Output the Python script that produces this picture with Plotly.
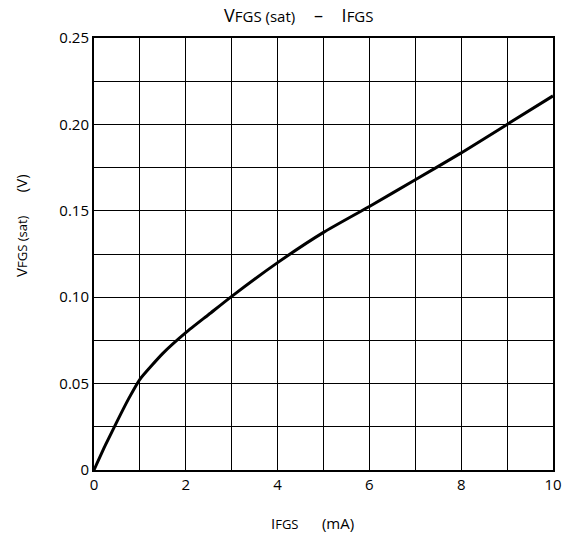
import plotly.graph_objects as go

i_fgs = [0, 0.25, 0.5, 0.75, 1, 1.5, 2, 2.5, 3, 4, 5, 6, 7, 8, 9, 10]
v_fgs_sat = [0, 0.0145, 0.028, 0.041, 0.0525, 0.0675, 0.0795, 0.090, 0.1005,
             0.120, 0.1375, 0.1525, 0.168, 0.1835, 0.2, 0.2165]

x_ticks = [0, 2, 4, 6, 8, 10]
x_ticktext = ["0", "2", "4", "6", "8", "10"]
y_ticks = [0, 0.05, 0.10, 0.15, 0.20, 0.25]
y_ticktext = ["0", "0.05", "0.10", "0.15", "0.20", "0.25"]

FONT = "Open Sans, DejaVu Sans, sans-serif"

fig = go.Figure()
fig.add_trace(go.Scatter(x=i_fgs, y=v_fgs_sat, mode="lines",
                         line=dict(color="black", width=3, shape="spline", smoothing=0.5),
                         showlegend=False, hoverinfo="skip"))

fig.update_layout(
    width=564, height=536,
    margin=dict(l=94, r=11, t=38, b=66, autoexpand=False),
    paper_bgcolor="white", plot_bgcolor="white",
    font=dict(family=FONT, size=15, color="black"),
    xaxis=dict(range=[0, 10], tickvals=x_ticks, ticktext=x_ticktext,
               showgrid=True, gridcolor="black", gridwidth=1.2,
               minor=dict(dtick=1, showgrid=True, gridcolor="black", gridwidth=1.2),
               showline=True, linecolor="black", linewidth=2, mirror=True,
               ticks="", ticklen=0, zeroline=False, tickfont=dict(size=15),
               ticklabeloverflow="allow", automargin=False),
    yaxis=dict(range=[0, 0.25], tickvals=y_ticks, ticktext=y_ticktext,
               showgrid=True, gridcolor="black", gridwidth=1.2,
               minor=dict(dtick=0.025, showgrid=True, gridcolor="black", gridwidth=1.2),
               showline=True, linecolor="black", linewidth=2, mirror=True,
               ticks="", ticklen=0, zeroline=False, tickfont=dict(size=15),
               automargin=False),
    annotations=[
        dict(text="V<span style='font-size:15px'>FGS (sat)</span>    –    I<span style='font-size:15px'>FGS</span>",
             xref="paper", yref="paper", x=0.4466, y=1, yshift=23, showarrow=False,
             xanchor="center", yanchor="middle", font=dict(size=18)),
        dict(text="V<span style='font-size:13px'>FGS (sat)</span>      (V)",
             xref="paper", yref="paper", x=0, xshift=-73, y=0.565, showarrow=False,
             textangle=-90, xanchor="center", yanchor="middle", font=dict(size=15)),
        dict(text="I<span style='font-size:13px'>FGS</span>      (mA)",
             xref="paper", yref="paper", x=0.477, y=0, yshift=-53, showarrow=False,
             xanchor="center", yanchor="middle", font=dict(size=15)),
    ],
)

# remove the default 8px page margin so the figure fills the 564x536 window exactly
fig.write_html("out.html", config={"displayModeBar": False},
               post_script="document.body.style.margin='0';")
